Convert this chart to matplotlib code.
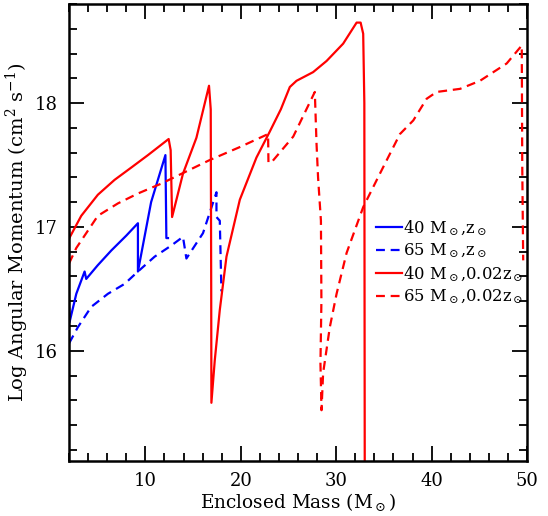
import matplotlib
matplotlib.use("Agg")
import matplotlib.pyplot as plt
from matplotlib.ticker import MultipleLocator

plt.rcParams["font.family"] = "DejaVu Serif"
plt.rcParams["mathtext.fontset"] = "dejavuserif"

# 40 Msun, solar metallicity (solid blue)
m40_sol = [2.0, 2.05, 2.76, 3.63, 3.80, 5.0, 6.43, 8.0, 9.22, 9.22, 10.6, 12.1, 12.2, 12.37]
j40_sol = [16.35, 16.23, 16.46, 16.64, 16.58, 16.69, 16.81, 16.93, 17.03, 16.64, 17.20, 17.58, 16.91, 16.91]

# 65 Msun, solar metallicity (dashed blue)
m65_sol = [2.0, 2.92, 4.33, 6.07, 7.82, 9.22, 10.97, 12.72, 13.94, 14.3, 16.04,
           17.45, 17.45, 17.8, 17.97]
j65_sol = [16.06, 16.19, 16.355, 16.46, 16.54, 16.64, 16.76, 16.85, 16.92, 16.745, 16.95,
           17.28, 17.08, 17.05, 16.48]

# 40 Msun, 0.02 solar (solid red)
m40_low = [2.0, 3.28, 5.02, 6.77, 8.53, 10.27, 12.44, 12.65, 12.8, 13.94, 15.35, 16.67,
           16.85, 16.9, 16.92, 17.27, 17.8, 18.5, 19.9, 21.64, 23.04, 24.2, 25.14, 25.84,
           27.58, 28.99, 30.73, 32.14, 32.56, 32.83, 32.95, 33.0]
j40_low = [16.906, 17.09, 17.26, 17.38, 17.48, 17.58, 17.71, 17.62, 17.08, 17.43, 17.72, 18.14,
           17.95, 16.5, 15.58, 15.92, 16.33, 16.76, 17.22, 17.56, 17.77, 17.95, 18.13, 18.18,
           18.25, 18.34, 18.48, 18.65, 18.65, 18.56, 18.0, 14.5]

# 65 Msun, 0.02 solar (dashed red)
m65_low = [2.0, 2.76, 5.02, 7.12, 9.22, 11.67, 16.74, 19.9, 22.86, 22.9, 23.2, 25.5, 27.76,
           27.94, 28.1, 28.4, 28.45, 28.35, 28.46, 28.63, 29.33, 30.04, 31.09, 32.83, 34.58,
           35.63, 36.68, 38.08, 39.48, 40.53, 42.98, 45.07, 47.87, 49.45, 49.5, 49.6]
j65_low = [16.705, 16.83, 17.09, 17.19, 17.27, 17.35, 17.54, 17.645, 17.75, 17.52, 17.52, 17.73, 18.09,
           17.67, 17.40, 17.05, 16.4, 15.9, 15.52, 15.82, 16.19, 16.46, 16.79, 17.16, 17.43,
           17.59, 17.75, 17.86, 18.035, 18.09, 18.115, 18.18, 18.32, 18.465, 17.5, 16.73]

fig = plt.figure(figsize=(5.48, 5.16), dpi=100)
ax = fig.add_axes([0.126, 0.1066, 0.8357, 0.8856])

dash = (0, (4, 2.6))
ax.plot(m40_sol, j40_sol, color="#0000ff", lw=1.6, label=r"40 M$_\odot$,z$_\odot$")
ax.plot(m65_sol, j65_sol, color="#0000ff", lw=1.6, ls=dash, label=r"65 M$_\odot$,z$_\odot$")
ax.plot(m40_low, j40_low, color="#ff0000", lw=1.6, label=r"40 M$_\odot$,0.02z$_\odot$")
ax.plot(m65_low, j65_low, color="#ff0000", lw=1.6, ls=dash, label=r"65 M$_\odot$,0.02z$_\odot$")

ax.set_xlim(2, 50)
ax.set_ylim(15.11, 18.8)
ax.xaxis.set_major_locator(MultipleLocator(10))
ax.xaxis.set_minor_locator(MultipleLocator(2))
ax.yaxis.set_major_locator(MultipleLocator(1))
ax.yaxis.set_minor_locator(MultipleLocator(0.2))
ax.tick_params(which="both", direction="in", top=True, right=True, width=1.3,
               labelsize=13, pad=8)
ax.tick_params(which="major", length=11)
ax.tick_params(which="minor", length=6)
for s in ax.spines.values():
    s.set_linewidth(1.8)

ax.set_xlabel(r"Enclosed Mass (M$_\odot$)", fontsize=13.3, labelpad=1)
ax.set_ylabel(r"Log Angular Momentum (cm$^2$ s$^{-1}$)", fontsize=14, labelpad=3)

ax.legend(loc="upper left", bbox_to_anchor=(0.655, 0.545), frameon=False, fontsize=11.8,
          handlelength=1.6, handletextpad=0.1, labelspacing=0.25, borderaxespad=0)

fig.savefig("out.png", dpi=100)
